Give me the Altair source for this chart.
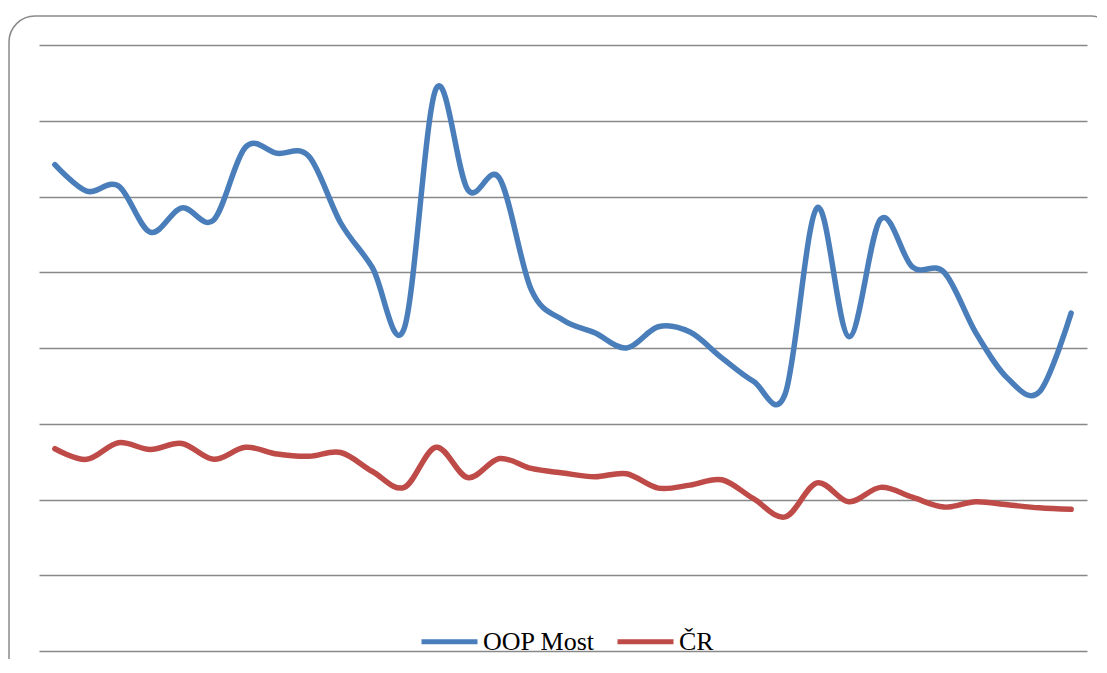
import altair as alt
import pandas as pd

# 33 periods (category index)
periods = list(range(33))

oop_most = [64.2, 60.7, 61.4, 55.3, 58.5, 56.9, 66.5, 65.7, 65.3, 56.5,
            50.6, 42.6, 74.2, 60.9, 62.4, 47.7, 43.7, 42.0, 40.0, 42.8,
            42.1, 38.7, 35.6, 34.0, 58.5, 41.5, 57.0, 50.7, 50.0, 42.0,
            36.0, 34.2, 44.6]

cr = [26.7, 25.3, 27.5, 26.6, 27.4, 25.3, 26.9, 26.0, 25.7, 26.2,
      23.7, 21.6, 26.9, 22.9, 25.4, 24.1, 23.5, 23.0, 23.4, 21.5,
      21.9, 22.6, 20.1, 17.7, 22.2, 19.7, 21.6, 20.3, 19.0, 19.7,
      19.3, 18.9, 18.7]

series_names = ["OOP Most", "ČR"]
series_colors = ["#4A7EBB", "#BE4B48"]
grid_values = [0, 10, 20, 30, 40, 50, 60, 70, 80]

df = pd.DataFrame({
    "period": periods + periods,
    "value": oop_most + cr,
    "series": [series_names[0]] * len(periods) + [series_names[1]] * len(periods),
})

border = alt.Chart(pd.DataFrame({"a": [0]})).mark_rect(
    cornerRadius=26, fill="transparent", stroke="#8a8a8a", strokeWidth=1.5
).encode(
    x=alt.value(-30), x2=alt.value(1078), y=alt.value(-29), y2=alt.value(640)
)

lines = alt.Chart(df).mark_line(
    interpolate="cardinal", tension=0, strokeWidth=5.5,
    strokeCap="round", strokeJoin="round"
).encode(
    x=alt.X("period:Q", scale=alt.Scale(domain=[-0.5, 32.5], nice=False, zero=False), axis=None),
    y=alt.Y("value:Q", scale=alt.Scale(domain=[0, 80], nice=False),
            axis=alt.Axis(values=grid_values, grid=True, gridColor="#888888", gridWidth=1.5,
                          labels=False, ticks=False, domain=False, title=None)),
    color=alt.Color("series:N", scale=alt.Scale(domain=series_names, range=series_colors),
                    legend=alt.Legend(orient="none", legendX=380, legendY=566, direction="horizontal",
                                      title=None, symbolType="stroke", symbolSize=3136,
                                      symbolStrokeWidth=5, labelFont="Liberation Serif",
                                      labelFontSize=26, labelColor="black", labelOffset=3,
                                      columnPadding=12)),
    order="period:Q",
)

chart = alt.layer(border, lines).properties(
    width=1048, height=606,
    autosize=alt.AutoSizeParams(type="none"),
    padding={"left": 31, "top": 37, "right": 10, "bottom": 8},
    background="white",
).configure_view(stroke=None)

chart.save("out.html", embed_options={"renderer": "svg", "actions": False})
